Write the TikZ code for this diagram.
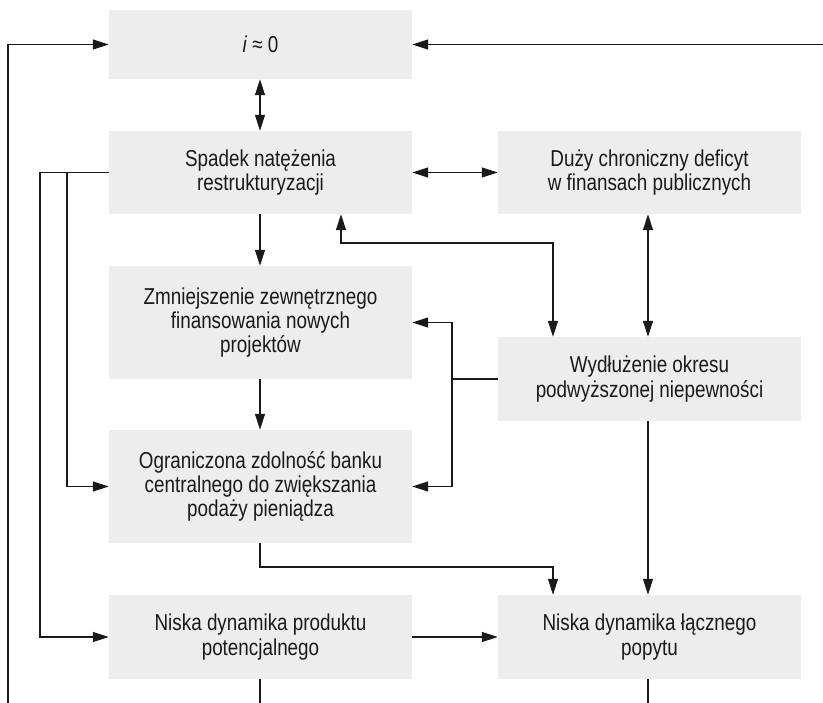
\documentclass[tikz,border=0pt]{standalone}
\usepackage{fontspec}
\setmainfont{Liberation Sans}[FakeStretch=0.82]
\usetikzlibrary{arrows.meta}
\definecolor{boxgray}{HTML}{EDEDED}
\definecolor{txt}{HTML}{1A1A1A}
\begin{document}
\begin{tikzpicture}[x=1pt,y=-1pt,
  box/.style={fill=boxgray,draw=none,inner sep=0pt,minimum width=303pt,align=center,
    text=txt,font=\fontsize{23}{24.3}\selectfont},
  conn/.style={line width=1.2pt,draw=txt},
  arr/.style={conn,-{Triangle[length=16pt,width=10pt]}},
  dbl/.style={conn,{Triangle[length=16pt,width=10pt]}-{Triangle[length=16pt,width=10pt]}}]
\useasboundingbox (0,0) rectangle (823,703);
% boxes
\node[box,minimum height=69pt] (i) at (260.5,44.5) {\textit{i} ≈ 0};
\node[box,minimum height=83pt] (sp) at (260.5,172.5) {Spadek natężenia\\restrukturyzacji};
\node[box,minimum height=83pt] (du) at (649.5,172.5) {Duży chroniczny deficyt\\w finansach publicznych};
\node[box,minimum height=113pt] (zm) at (260.5,322.5) {Zmniejszenie zewnętrznego\\finansowania nowych\\projektów};
\node[box,minimum height=113pt] (og) at (260.5,486.5) {Ograniczona zdolność banku\\centralnego do zwiększania\\podaży pieniądza};
\node[box,minimum height=84pt] (wy) at (649.5,379) {Wydłużenie okresu\\podwyższonej niepewności};
\node[box,minimum height=84pt] (np) at (260.5,637) {Niska dynamika produktu\\potencjalnego};
\node[box,minimum height=84pt] (ny) at (649.5,637) {Niska dynamika łącznego\\popytu};
% helper coordinates
\coordinate (L0) at (8,703);
\coordinate (R0) at (823,44.5);
\coordinate (s1) at (40,172.5);
\coordinate (s2) at (67,172.5);
\coordinate (c1) at (341,243);
\coordinate (c2) at (553,243);
\coordinate (j) at (452,379);
\coordinate (o1) at (260,567);
\coordinate (o2) at (553,567);
\coordinate (b1) at (260,703);
\coordinate (b2) at (648,703);
% connectors
\draw[arr] (L0) |- (i.west);
\draw[arr] (R0) -- (i.east);
\draw[dbl] (i.south -| b1) -- (sp.north -| b1);
\draw[dbl] (sp.east) -- (du.west);
\draw[dbl] (du.south -| b2) -- (wy.north -| b2);
\draw[arr] (sp.south -| b1) -- (zm.north -| b1);
\draw[arr] (zm.south -| b1) -- (og.north -| b1);
\draw[conn] (sp.west) -- (s1);
\draw[arr] (s1) |- (np.west);
\draw[arr] (s2) |- (og.west);
\draw[dbl] (sp.south -| c1) -- (c1) -- (c2) -- (wy.north -| c2);
\draw[conn] (wy.west) -- (j);
\draw[arr] (j) |- (zm.east);
\draw[arr] (j) |- (og.east);
\draw[arr] (og.south -| o1) -- (o1) -- (o2) -- (ny.north -| o2);
\draw[arr] (wy.south -| b2) -- (ny.north -| b2);
\draw[arr] (np.east) -- (ny.west);
\draw[conn] (np.south -| b1) -- (b1);
\draw[conn] (ny.south -| b2) -- (b2);
\end{tikzpicture}
\end{document}
